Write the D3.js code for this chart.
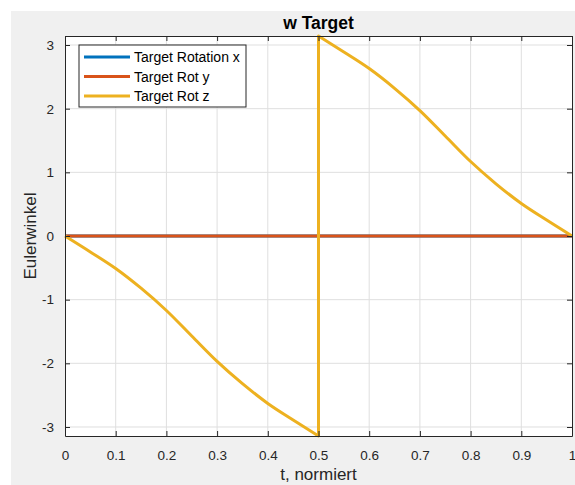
<!DOCTYPE html>
<html>
<head>
<meta charset="utf-8">
<script src="https://cdn.jsdelivr.net/npm/d3@7"></script>
<style>
  body { margin: 0; background: #fff; }
  text { font-family: "Liberation Sans", Arial, sans-serif; }
</style>
</head>
<body>
<div id="chart"></div>
<script>
// data
var tLow = [0, 0.05, 0.1, 0.15, 0.2, 0.25, 0.3, 0.35, 0.4, 0.45, 0.5];
var zLow = [0, -0.25, -0.51, -0.82, -1.17, -1.571, -1.97, -2.32, -2.63, -2.89, -Math.PI];
var tHigh = [0.5, 0.55, 0.6, 0.65, 0.7, 0.75, 0.8, 0.85, 0.9, 0.95, 1];
var zHigh = [Math.PI, 2.89, 2.63, 2.32, 1.97, 1.571, 1.17, 0.82, 0.51, 0.25, 0];
var tFlat = [0, 1];
var rotX = [0, 0];
var rotY = [0, 0];
var xTicks = [0, 0.1, 0.2, 0.3, 0.4, 0.5, 0.6, 0.7, 0.8, 0.9, 1];
var yTicks = [-3, -2, -1, 0, 1, 2, 3];
var seriesNames = ["Target Rotation x", "Target Rot y", "Target Rot z"];
var colors = ["#0072bd", "#d95319", "#edb120"];

var W = 575, H = 485;
var margin = { top: 36, right: 3, bottom: 49, left: 65 },
    width = W - margin.left - margin.right,
    height = H - margin.top - margin.bottom;

var root = d3.select("#chart").append("svg")
    .attr("width", W)
    .attr("height", H);

root.append("rect")
    .attr("x", 11).attr("y", 11)
    .attr("width", W - 11).attr("height", H - 11)
    .attr("fill", "#f0f0f0");

var svg = root.append("g")
    .attr("transform", "translate(" + margin.left + "," + margin.top + ")");

var x = d3.scaleLinear().domain([0, 1]).range([0, width]);
var y = d3.scaleLinear().domain([-Math.PI, Math.PI]).range([height, 0]);

svg.append("rect")
    .attr("width", width).attr("height", height)
    .attr("fill", "#fff");

// grid
svg.append("g").selectAll("line")
    .data(xTicks.slice(1, -1))
    .enter().append("line")
    .attr("x1", d => x(d)).attr("x2", d => x(d))
    .attr("y1", 0).attr("y2", height)
    .attr("stroke", "#dfdfdf");
svg.append("g").selectAll("line")
    .data(yTicks)
    .enter().append("line")
    .attr("y1", d => y(d)).attr("y2", d => y(d))
    .attr("x1", 0).attr("x2", width)
    .attr("stroke", "#dfdfdf");

// lines
var line = d3.line()
    .x(d => x(d[0]))
    .y(d => y(d[1]));
var smooth = d3.line()
    .x(d => x(d[0]))
    .y(d => y(d[1]))
    .curve(d3.curveMonotoneX);

var plot = svg.append("g");
plot.append("path")
    .datum(tFlat.map((t, i) => [t, rotX[i]]))
    .attr("d", line).attr("fill", "none")
    .attr("stroke", colors[0]).attr("stroke-width", 3);
plot.append("path")
    .datum(tFlat.map((t, i) => [t, rotY[i]]))
    .attr("d", line).attr("fill", "none")
    .attr("stroke", colors[1]).attr("stroke-width", 3);

var zPath = smooth(tLow.map((t, i) => [t, zLow[i]])) +
    "L" + smooth(tHigh.map((t, i) => [t, zHigh[i]])).slice(1);
plot.append("path")
    .attr("d", zPath).attr("fill", "none")
    .attr("stroke", colors[2]).attr("stroke-width", 3)
    .attr("stroke-linejoin", "round");

// axes
var axCol = "#262626";
var fmt = d => String(d);
var xAxis = svg.append("g")
    .attr("transform", "translate(0," + height + ")")
    .call(d3.axisBottom(x).tickValues(xTicks).tickSizeInner(-5).tickSizeOuter(0).tickPadding(14)
        .tickFormat(fmt));
var yAxis = svg.append("g")
    .call(d3.axisLeft(y).tickValues(yTicks).tickSizeInner(-5).tickSizeOuter(0).tickPadding(11)
        .tickFormat(fmt));
var xTop = svg.append("g")
    .call(d3.axisTop(x).tickValues(xTicks).tickSizeInner(-5).tickSizeOuter(0).tickFormat(""));
var yRight = svg.append("g")
    .attr("transform", "translate(" + width + ",0)")
    .call(d3.axisRight(y).tickValues(yTicks).tickSizeInner(-5).tickSizeOuter(0).tickFormat(""));

[xAxis, yAxis, xTop, yRight].forEach(function (g) {
    g.select(".domain").attr("stroke", axCol);
    g.selectAll(".tick line").attr("stroke", axCol);
    g.selectAll(".tick text")
        .attr("fill", axCol)
        .style("font-size", "13.5px")
        .style("font-family", "'Liberation Sans', Arial, sans-serif");
});

// title and labels
svg.append("text")
    .attr("x", width / 2).attr("y", -7)
    .attr("text-anchor", "middle")
    .style("font-size", "17.5px").style("font-weight", "bold")
    .attr("fill", "#000")
    .text("w Target");

svg.append("text")
    .attr("x", width / 2).attr("y", height + 44)
    .attr("text-anchor", "middle")
    .style("font-size", "17px")
    .attr("fill", axCol)
    .text("t, normiert");

svg.append("text")
    .attr("transform", "rotate(-90)")
    .attr("x", -(y(0))).attr("y", -29)
    .attr("text-anchor", "middle")
    .style("font-size", "17px")
    .attr("fill", axCol)
    .text("Eulerwinkel");

// legend
var lg = svg.append("g").attr("transform", "translate(14,9)");
lg.append("rect")
    .attr("width", 167).attr("height", 62)
    .attr("fill", "#fff").attr("stroke", axCol).attr("stroke-width", 1);
seriesNames.forEach(function (name, i) {
    var yy = 12 + i * 19.5;
    lg.append("line")
        .attr("x1", 5).attr("x2", 51)
        .attr("y1", yy).attr("y2", yy)
        .attr("stroke", colors[i]).attr("stroke-width", 3);
    lg.append("text")
        .attr("x", 55).attr("y", yy + 5)
        .style("font-size", "14px")
        .attr("fill", "#000")
        .text(name);
});
</script>
</body>
</html>
